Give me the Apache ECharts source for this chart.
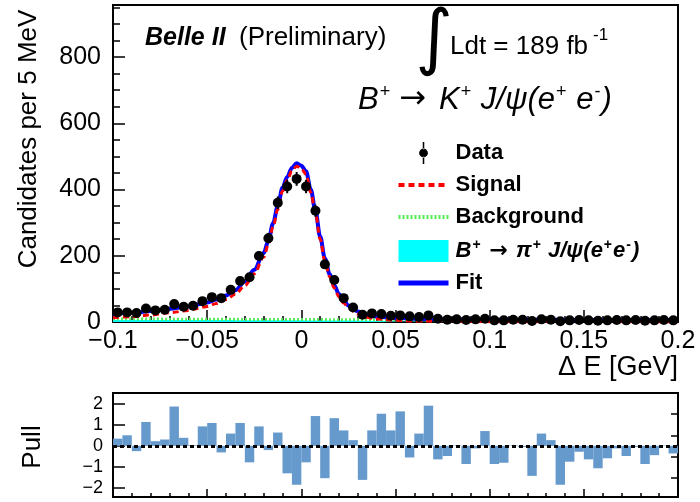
<!DOCTYPE html>
<html>
<head>
<meta charset="utf-8">
<script src="https://cdn.jsdelivr.net/npm/echarts@6/dist/echarts.min.js"></script>
<style>
  html, body { margin: 0; padding: 0; background: #fff; }
  #chart { width: 700px; height: 502px; }
</style>
</head>
<body>
<div id="chart"></div>
<script>
// bins of 5 MeV from -0.1 to 0.2 GeV
const binCenters = Array.from({ length: 60 }, (_, i) => +(-0.0975 + 0.005 * i).toFixed(4));

const dataCounts = [29, 29, 27, 41, 35, 37, 54, 46, 49, 63,
    75, 72, 97, 124, 135, 199, 253, 360, 409, 432,
    409, 336, 174, 127, 72, 44, 22, 26, 24, 19,
    20, 17, 15, 20, 10, 7, 8, 6, 8, 10,
    5, 5, 7, 7, 3, 8, 7, 2, 5, 6,
    5, 4, 5, 6, 5, 6, 4, 5, 6, 5];
const dataErrors = [5.4, 5.4, 5.2, 6.4, 5.9, 6.1, 7.3, 6.8, 7, 7.9,
    8.7, 8.5, 9.8, 11.1, 11.6, 14.1, 15.9, 19, 20.2, 20.8,
    20.2, 18.3, 13.2, 11.3, 8.5, 6.6, 4.7, 5.1, 4.9, 4.4,
    4.5, 4.1, 3.9, 4.5, 3.2, 2.6, 2.8, 2.4, 2.8, 3.2,
    2.2, 2.2, 2.6, 2.6, 1.7, 2.8, 2.6, 1.4, 2.2, 2.4,
    2.2, 2, 2.2, 2.4, 2.2, 2.4, 2, 2.2, 2.4, 2.2];
const pulls = [0.34, 0.50, -0.25, 1.13, 0.22, 0.30, 1.86, 0.38, 0.03, 0.92,
    1.08, -0.31, 0.58, 1.08, -0.78, 0.92, -0.20, 0.63, -1.30, -1.84,
    -0.78, 1.41, -1.53, 1.31, 0.73, 0.27, -1.61, 0.73, 1.52, 0.73,
    1.63, -0.55, 0.58, 1.90, -0.64, -0.48, 0.02, -0.86, -0.12, 0.70,
    -0.86, -0.80, 0.02, -0.05, -1.42, 0.58, 0.27, -1.84, -0.75, -0.28,
    -0.64, -1.06, -0.59, -0.12, -0.48, -0.05, -0.86, -0.44, 0.02, -0.36];

// fit components
const curveX = [-0.1, -0.09, -0.08, -0.07, -0.06, -0.055, -0.05, -0.045, -0.04, -0.035,
    -0.03, -0.025, -0.02, -0.0175, -0.015, -0.0125, -0.01, -0.0075, -0.005, -0.0025,
    0, 0.0025, 0.005, 0.0075, 0.01, 0.0125, 0.015, 0.0175, 0.02, 0.0225,
    0.025, 0.03, 0.035, 0.04, 0.05, 0.06, 0.08, 0.1, 0.15, 0.2];
const fitY = [25, 28, 33, 40, 47, 53, 59, 68, 80, 96,
    122, 158, 208, 245, 298, 350, 405, 438, 465, 479,
    472, 455, 400, 335, 258, 192, 145, 110, 84, 65,
    50, 32, 22, 16, 12, 10, 8, 7, 6, 5];
const signalY = [13, 16, 21, 28, 35, 41, 47, 56, 68, 84,
    110, 146, 196, 234, 288, 340, 395, 428, 456, 470,
    463, 446, 391, 327, 250, 184, 137, 102, 76, 57,
    42, 24, 14, 9, 5, 3, 2, 1, 0.5, 0.3];
const backgroundY = [9, 9, 8.8, 8.6, 8.4, 8.3, 8.2, 8.1, 8, 8,
    7.9, 7.8, 7.7, 7.7, 7.6, 7.6, 7.5, 7.5, 7.4, 7.4,
    7.3, 7.3, 7.3, 7.2, 7.2, 7.2, 7.1, 7.1, 7.1, 7,
    7, 6.9, 6.8, 6.7, 6.5, 6.3, 6, 5.7, 5.2, 4.7];
const piY = [6, 6, 6, 6, 6, 6, 5.8, 5.8, 5.7, 5.6,
    5.5, 5.4, 5.3, 5.3, 5.2, 5.2, 5.1, 5.1, 5, 5,
    5, 4.9, 4.9, 4.8, 4.8, 4.7, 4.6, 4.5, 4.4, 4.3,
    4.2, 4, 3.6, 3, 1.8, 0.6, 0, 0, 0, 0];

const PI_NAME = 'B⁺ → π⁺ J/ψ(e⁺e⁻)';
const FONT = 'Liberation Sans, Arial, Helvetica, sans-serif';
const zip = (xs, ys) => xs.map((x, i) => [x, ys[i]]);
const fmt = v => String(+v.toFixed(3)).replace('-', '−');
const noSymbol = { color: 'rgba(0,0,0,0)', borderWidth: 0 };

const chart = echarts.init(document.getElementById('chart'));

chart.setOption({
    animation: false,
    backgroundColor: '#fff',
    grid: [
        { left: 113, top: 5, width: 565, height: 317, show: true, borderColor: '#000', borderWidth: 2, backgroundColor: 'transparent' },
        { left: 113, top: 393, width: 565, height: 104, show: true, borderColor: '#000', borderWidth: 2, backgroundColor: 'transparent' }
    ],
    xAxis: [
        {
            gridIndex: 0, type: 'value', min: -0.1, max: 0.2, interval: 0.05,
            axisLine: { onZero: false, lineStyle: { color: '#000', width: 2 } },
            axisTick: { inside: true, length: 12, lineStyle: { color: '#000', width: 1.5 } },
            minorTick: { show: true, splitNumber: 5, length: 6, lineStyle: { color: '#000', width: 1.5 } },
            splitLine: { show: false },
            axisLabel: { margin: 7, fontSize: 25, fontFamily: FONT, color: '#000', formatter: v => fmt(v) }
        },
        {
            gridIndex: 1, type: 'value', min: -0.1, max: 0.2, interval: 0.05,
            axisLine: { onZero: false, lineStyle: { color: '#000', width: 2 } },
            axisTick: { inside: true, length: 8, lineStyle: { color: '#000', width: 1.5 } },
            minorTick: { show: true, splitNumber: 5, length: 4, lineStyle: { color: '#000', width: 1.5 } },
            splitLine: { show: false },
            axisLabel: { show: false }
        }
    ],
    yAxis: [
        {
            gridIndex: 0, type: 'value', min: 0, max: 957, interval: 200,
            axisLine: { show: true, onZero: false, lineStyle: { color: '#000', width: 2 } },
            axisTick: { inside: true, length: 12, lineStyle: { color: '#000', width: 1.5 } },
            minorTick: { show: true, splitNumber: 4, length: 7, lineStyle: { color: '#000', width: 1.5 } },
            splitLine: { show: false },
            axisLabel: { margin: 12, fontSize: 25, fontFamily: FONT, color: '#000', showMaxLabel: false }
        },
        {
            gridIndex: 1, type: 'value', min: -2.42, max: 2.5,
            axisLine: { show: true, onZero: false, lineStyle: { color: '#000', width: 2 } },
            axisTick: { inside: true, length: 12, customValues: [-2, -1, 0, 1, 2], lineStyle: { color: '#000', width: 1.5 } },
            splitLine: { show: false },
            axisLabel: { margin: 10, fontSize: 18, fontFamily: FONT, color: '#000', customValues: [-2, -1, 0, 1, 2], formatter: v => fmt(v) }
        },
        {
            // half-unit ticks on the pull axis
            gridIndex: 1, type: 'value', min: -2.42, max: 2.5,
            axisLine: { show: false, onZero: false },
            axisTick: { inside: true, length: 7, customValues: [-1.5, -0.5, 0.5, 1.5], lineStyle: { color: '#000', width: 1.5 } },
            splitLine: { show: false },
            axisLabel: { show: false }
        }
    ],
    legend: {
        orient: 'vertical', left: 391, top: 137,
        itemWidth: 50, itemHeight: 22, itemGap: 10,
        textStyle: {
            fontSize: 22, fontWeight: 'bold', fontFamily: FONT, color: '#000', padding: [0, 0, 0, 2],
            rich: {
                b: { fontSize: 22, fontWeight: 'bold', fontStyle: 'italic', fontFamily: FONT, color: '#000' },
                s: { fontSize: 14, fontWeight: 'bold', fontFamily: FONT, color: '#000', padding: [0, 1, 12, 1] },
                a: { fontSize: 22, fontFamily: 'DejaVu Sans', color: '#000', padding: [0, 8, 0, 8] }
            }
        },
        formatter: name => name === PI_NAME
            ? '{b|B}{s|+}{a|→}{b|π}{s|+}{b| J/ψ(e}{s|+}{b|e}{s|-}{b|)}'
            : name,
        data: [
            { name: 'Data', icon: 'path://M4.3,0h1.4v6.5h-1.4Z M4.3,13.5h1.4v6.5h-1.4Z M1,10a4,4 0 1,0 8,0a4,4 0 1,0 -8,0Z', itemStyle: { color: '#000' } },
            { name: 'Signal', itemStyle: noSymbol, lineStyle: { width: 4 } },
            { name: 'Background', itemStyle: noSymbol, lineStyle: { width: 4 } },
            { name: PI_NAME, icon: 'rect' },
            { name: 'Fit', itemStyle: noSymbol, lineStyle: { width: 5 } }
        ]
    },
    graphic: [
        { type: 'text', x: 145, y: 38, style: { text: 'Belle II', font: 'italic bold 25px ' + FONT, fill: '#000', textVerticalAlign: 'middle' } },
        { type: 'text', x: 239, y: 38, style: { text: '(Preliminary)', font: '26px ' + FONT, fill: '#000', textVerticalAlign: 'middle' } },
        { type: 'text', x: 434, y: 42, style: { text: '∫', font: '72px DejaVu Sans', fill: '#000', textAlign: 'center', textVerticalAlign: 'middle' } },
        { type: 'text', x: 450, y: 47, style: { text: 'Ldt = 189 fb', font: '26px ' + FONT, fill: '#000', textVerticalAlign: 'middle' } },
        { type: 'text', x: 593, y: 35, style: { text: '-1', font: '17px ' + FONT, fill: '#000', textVerticalAlign: 'middle' } },
        {
            type: 'text', x: 358, y: 100,
            style: {
                text: '{n|B}{s|+}{a|→}{n|K}{s|+}{n| J/ψ(e}{s|+}{n| e}{s|-}{n|)}',
                fill: '#000', textVerticalAlign: 'middle',
                rich: {
                    n: { font: 'italic 31px ' + FONT, fill: '#000' },
                    s: { font: '18px ' + FONT, fill: '#000', padding: [0, 1, 16, 1] },
                    a: { font: '32px DejaVu Sans', fill: '#000', padding: [0, 13, 0, 8] }
                }
            }
        },
        { type: 'text', x: 29, y: 139, rotation: Math.PI / 2, style: { text: 'Candidates per 5 MeV', font: '26px ' + FONT, fill: '#000', textAlign: 'center', textVerticalAlign: 'middle' } },
        { type: 'text', x: 678, y: 368, style: { text: 'Δ E [GeV]', font: '27px ' + FONT, fill: '#000', textAlign: 'right', textVerticalAlign: 'middle' } },
        { type: 'text', x: 33, y: 447, rotation: Math.PI / 2, style: { text: 'Pull', font: '26px ' + FONT, fill: '#000', textAlign: 'center', textVerticalAlign: 'middle' } }
    ],
    series: [
        {
            name: PI_NAME, type: 'line', xAxisIndex: 0, yAxisIndex: 0,
            data: zip(curveX, piY), symbol: 'none', smooth: 0.3,
            lineStyle: { width: 0, color: '#00ffff' },
            itemStyle: { color: '#00ffff' },
            areaStyle: { color: '#00ffff', opacity: 1 }, z: 2
        },
        {
            name: 'Background', type: 'line', xAxisIndex: 0, yAxisIndex: 0,
            data: zip(curveX, backgroundY), symbol: 'none', smooth: 0.3,
            lineStyle: { width: 3, color: '#55ee55', type: [2, 2] },
            itemStyle: { color: '#55ee55' }, z: 3
        },
        {
            name: 'Fit', type: 'line', xAxisIndex: 0, yAxisIndex: 0,
            data: zip(curveX, fitY), symbol: 'none', smooth: 0.35, smoothMonotone: 'x',
            lineStyle: { width: 4, color: '#0000ff' },
            itemStyle: { color: '#0000ff' }, z: 4
        },
        {
            name: 'Signal', type: 'line', xAxisIndex: 0, yAxisIndex: 0,
            data: zip(curveX, signalY), symbol: 'none', smooth: 0.35, smoothMonotone: 'x',
            lineStyle: { width: 3, color: '#ff0000', type: [6, 4] },
            itemStyle: { color: '#ff0000' }, z: 5
        },
        {
            name: 'errors', type: 'custom', xAxisIndex: 0, yAxisIndex: 0,
            data: binCenters.map((x, i) => [x, dataCounts[i], dataErrors[i]]),
            renderItem: (params, api) => {
                const lo = api.coord([api.value(0), api.value(1) - api.value(2)]);
                const hi = api.coord([api.value(0), api.value(1) + api.value(2)]);
                return { type: 'line', shape: { x1: lo[0], y1: lo[1], x2: hi[0], y2: hi[1] }, style: { stroke: '#000', lineWidth: 2 } };
            },
            z: 6, silent: true
        },
        {
            name: 'Data', type: 'scatter', xAxisIndex: 0, yAxisIndex: 0,
            data: zip(binCenters, dataCounts), symbol: 'circle', symbolSize: 10,
            itemStyle: { color: '#000', opacity: 1 }, z: 7
        },
        {
            name: 'pull', type: 'custom', xAxisIndex: 1, yAxisIndex: 1,
            data: zip(binCenters, pulls),
            renderItem: (params, api) => {
                const a = api.coord([api.value(0) - 0.0025, 0]);
                const b = api.coord([api.value(0) + 0.0025, api.value(1)]);
                return {
                    type: 'rect',
                    shape: { x: a[0], y: Math.min(a[1], b[1]), width: b[0] - a[0], height: Math.abs(b[1] - a[1]) },
                    style: { fill: '#6699cc' }
                };
            },
            markLine: {
                silent: true, symbol: 'none', label: { show: false },
                lineStyle: { color: '#000', width: 3, type: [4, 3] },
                data: [{ yAxis: 0 }]
            },
            z: 2
        }
    ]
});
</script>
</body>
</html>
